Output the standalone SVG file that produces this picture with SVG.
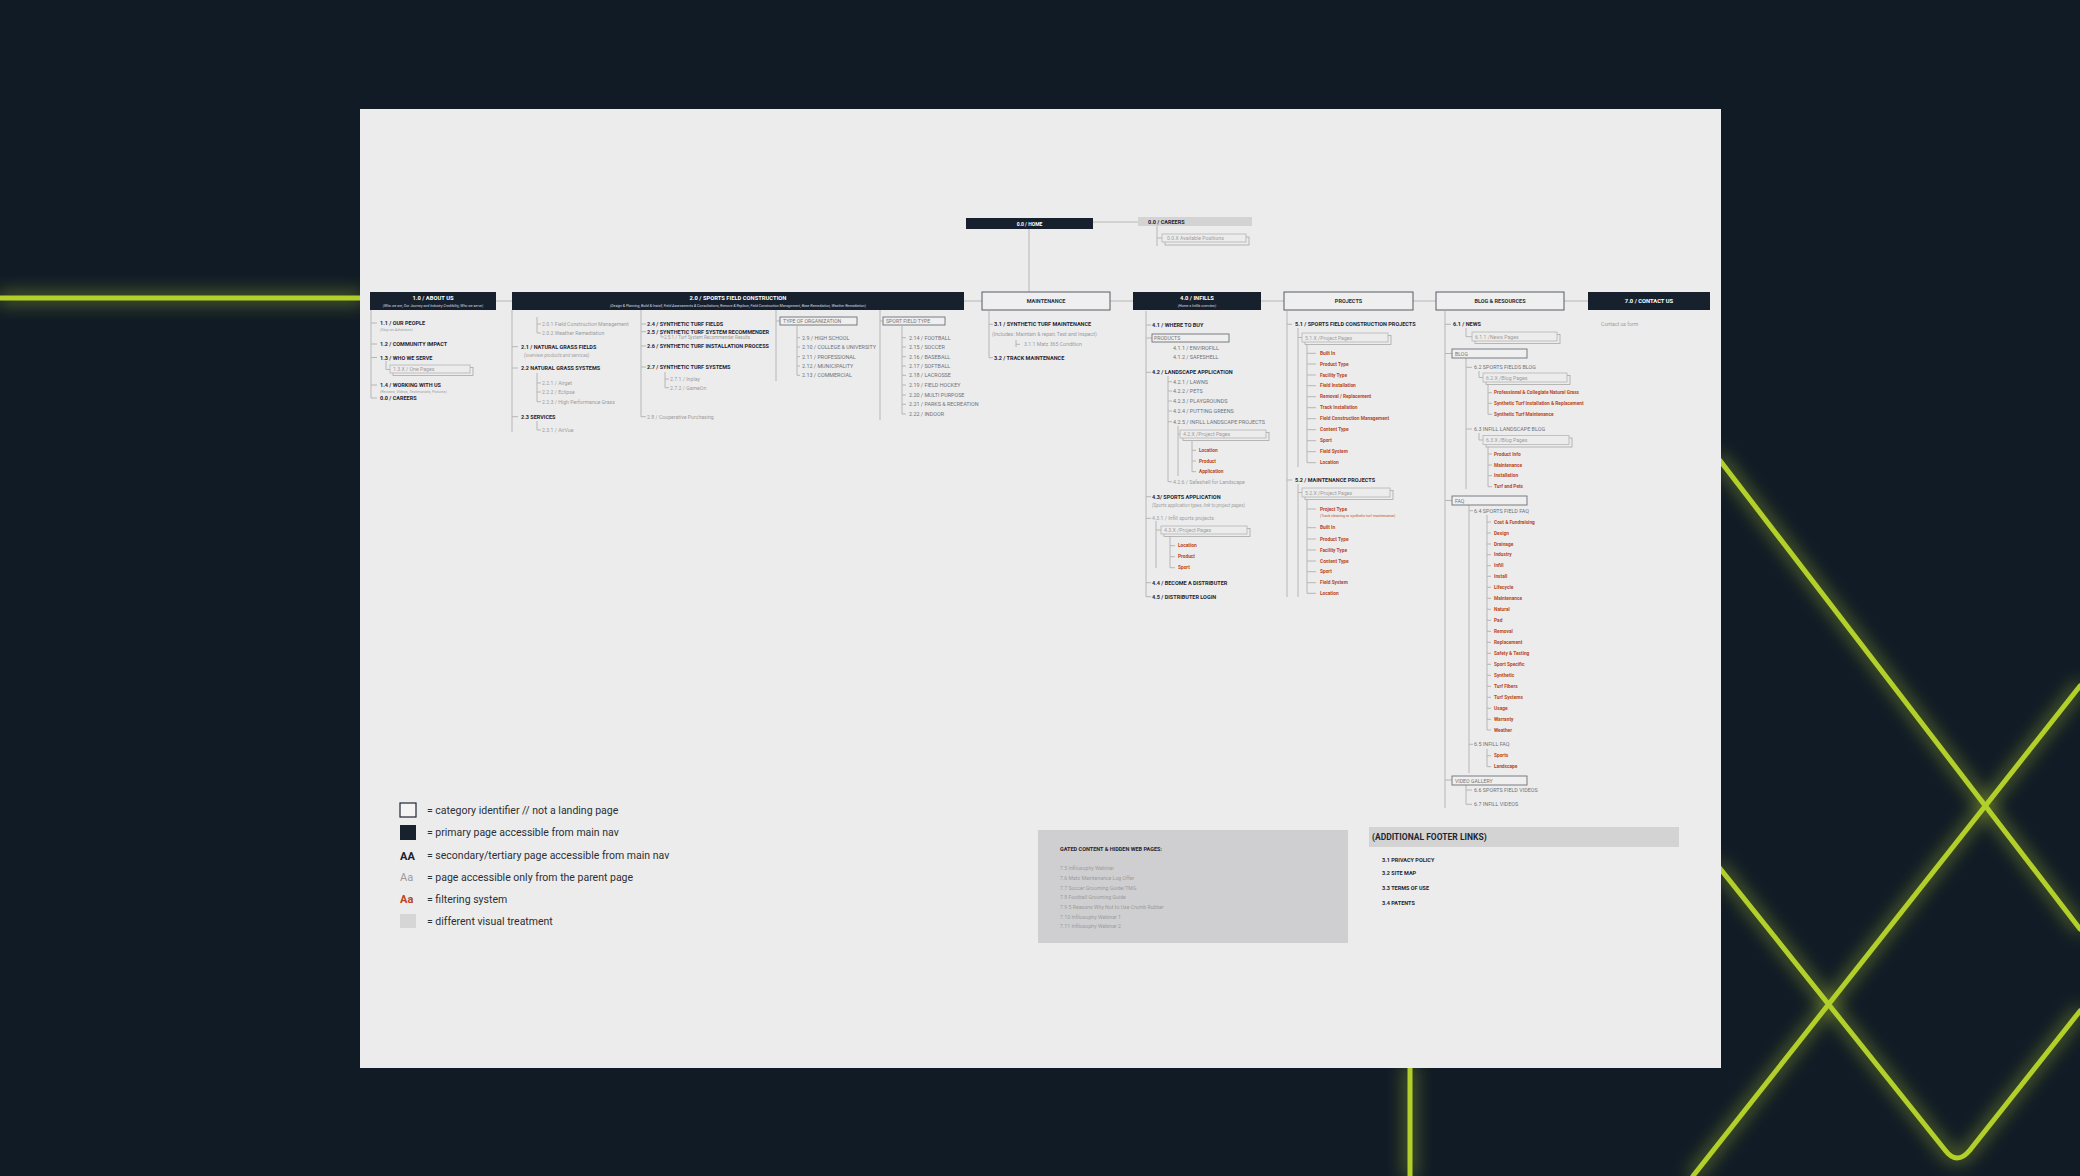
<svg xmlns="http://www.w3.org/2000/svg" width="2080" height="1176" viewBox="0 0 2080 1176">
<style>
.t{font-family:Roboto,"Liberation Sans",sans-serif;dominant-baseline:central}
.hb{font-weight:700;font-size:5.5px;fill:#1e2633}
.hg{font-size:5.2px;fill:#9c9c9c}
.hm{font-size:5.4px;fill:#6d737b}
.ho{font-weight:700;font-size:4.8px;fill:#b9471c}
.hi{font-size:4.6px;fill:#a0a0a0;font-style:italic}
.hw{font-weight:700;font-size:5.8px;fill:#fff;text-anchor:middle}
.hs{font-size:3.6px;fill:#d8dde3;text-anchor:middle;font-style:italic}
.hc{font-weight:700;font-size:5.5px;fill:#2a313b;text-anchor:middle}
.lg{font-size:10.5px;fill:#2b2f36}
.dk{fill:#17212e}
.cat{fill:#efefef;stroke:#555b63;stroke-width:1}
.sc{fill:#efefef;stroke:#6b7079;stroke-width:0.9}
.pb{fill:#ececec;stroke:#a9a9a9;stroke-width:0.8}
.pf{fill:#ececec;stroke:#b5b5b5;stroke-width:0.8}
.c{fill:none;stroke:#b6b6b6;stroke-width:1}
.gl{fill:none;stroke:#b3cf2c;stroke-width:5;stroke-linecap:round}
</style>
<defs>
<filter id="glow" x="-20%" y="-20%" width="140%" height="140%">
<feGaussianBlur stdDeviation="9" result="b"/>
<feMerge><feMergeNode in="b"/><feMergeNode in="SourceGraphic"/></feMerge>
</filter>
</defs>
<rect width="2080" height="1176" fill="#111b26"/>
<g id="decor" filter="url(#glow)">
<path class="gl" d="M0,298H362"/>
<path class="gl" d="M1718,458L2080,929"/>
<path class="gl" d="M2080,686L1693,1176"/>
<path class="gl" d="M1718,866L1945,1150Q1957,1166 1970,1150L2080,1011"/>
<path class="gl" d="M1410,1066V1176"/>
</g>
<rect x="360" y="109" width="1361" height="959" fill="#ececec"/>

<g id="connectors" class="c">
<path d="M1029,229V292M1093,222H1138M1157,226V246M1157,238H1162M496,301H512M964,301H982M1110,301H1133M1261,301H1284M1413,301H1436M1564,301H1588"/>
<path d="M371,310V398M371,323H377M371,344H377M371,357.5H377M371,385H377M371,398H377M386,361V369.5H390"/>
<path d="M512,310V432M512,346.7H518M512,368H518M512,416.7H518M537,317V333M537,324H541M537,333H541M537,373V401.7M537,383H541M537,392H541M537,401.7H541M537,421V430H541"/>
<path d="M641,310V417M641,324H646M641,331.7H646M641,346H646M641,367H646M641,416.7H646M661,333V337H664M665,372V387.7M665,379H669M665,387.7H669"/>
<path d="M776,310V381M776,321H780M797,326V375.3M797,337.7H800M797,347H800M797,356.7H800M797,366H800M797,375.3H800"/>
<path d="M880,310V420M880,321H883M902,326V414M902,337.7H906M902,347H906M902,356.7H906M902,366H906M902,375.3H906M902,385H906M902,395H906M902,404.3H906M902,414H906"/>
<path d="M989,311V357.7M989,324.3H993M989,357.7H993M1016,340V347M1016,344.3H1020"/>
<path d="M1146,311V596.7M1146,325H1151M1146,338H1152M1146,372.3H1151M1146,496.7H1151M1146,518.3H1151M1146,582.7H1151M1146,596.7H1151M1168,376V481.7M1168,381.7H1172M1168,391H1172M1168,401H1172M1168,411H1172M1168,421.7H1172M1168,481.7H1172M1178,426V476M1178,434H1180M1192,441V471.7M1192,450.3H1196M1192,461H1196M1192,471.7H1196M1156,521V568M1156,530H1161M1170,535V567.7M1170,545.7H1175M1170,556.7H1175M1170,567.7H1175"/>
<path d="M1287,311V597M1287,324.3H1292M1287,480H1292M1298,328V467M1298,337.5H1302M1307,344V462.7M1307,353.3H1316M1307,364H1316M1307,375H1316M1307,385.7H1316M1307,396.7H1316M1307,407.7H1316M1307,418.7H1316M1307,429.7H1316M1307,440.7H1316M1307,451.7H1316M1307,462.7H1316M1298,484V597M1298,492.5H1302M1307,500V593.3M1307,509H1316M1307,527.7H1316M1307,539H1316M1307,550H1316M1307,561H1316M1307,571.7H1316M1307,582.7H1316M1307,593.3H1316"/>
<path d="M1445,311V808M1445,324.3H1451M1445,353.5H1452M1445,500.5H1452M1445,780H1452M1466,328V336.7H1472M1466,358V489M1466,367.3H1472M1466,429H1472M1479,371V377.5H1483M1488,383V414.3M1488,392.7H1492M1488,403.3H1492M1488,414.3H1492M1479,433V440H1483M1488,446V486.7M1488,454H1492M1488,465H1492M1488,475.7H1492M1488,486.7H1492"/>
<path d="M1469,505V773M1469,510.7H1473M1469,744.3H1473M1487,515V730M1487,522H1491M1487,533H1491M1487,544H1491M1487,554.7H1491M1487,565.7H1491M1487,576.3H1491M1487,587.3H1491M1487,598.3H1491M1487,609.3H1491M1487,620.3H1491M1487,631.3H1491M1487,642.3H1491M1487,653.3H1491M1487,664.3H1491M1487,675.3H1491M1487,686.3H1491M1487,697.3H1491M1487,708.3H1491M1487,719.3H1491M1487,730H1491M1487,749V766.7M1487,755.7H1491M1487,766.7H1491M1466,785V804.3M1466,790H1472M1466,804.3H1472"/>
</g>

<g id="home"><rect class="dk" x="966" y="218" width="127" height="11"/><text class="t hw" x="1029.5" y="223.5" style="font-size:5px">0.0 / HOME</text></g>
<g id="careers"><rect x="1138" y="217" width="114" height="9" fill="#d3d3d3"/><text class="t hb" x="1148" y="221.5">0.0 / CAREERS</text></g>
<g id="careers-positions"><rect class="pb" x="1165" y="237" width="84" height="8"/><rect class="pf" x="1162" y="234" width="84" height="8"/><text class="t hg" x="1167" y="238">0.0.X Available Positions</text></g>

<g id="about"><rect class="dk" x="370" y="292" width="126" height="18"/><text class="t hw" x="433" y="297.5">1.0 / ABOUT US</text><text class="t hs" x="433" y="305.5">(Who we are, Our Journey and Industry Credibility, Who we serve)</text></g>
<g id="n1-1"><text class="t hb" x="380" y="323">1.1 / OUR PEOPLE</text><text class="t hi" x="380" y="329" style="font-size:3.8px">(Stop on Adventure)</text></g>
<g id="n1-2"><text class="t hb" x="380" y="344">1.2 / COMMUNITY IMPACT</text></g>
<g id="n1-3"><text class="t hb" x="380" y="357.5">1.3 / WHO WE SERVE</text></g>
<g id="n1-3-x"><rect class="pb" x="393" y="367.5" width="80" height="8"/><rect class="pf" x="390" y="365" width="80" height="8"/><text class="t hg" x="393" y="369">1.3.X / One Pages</text></g>
<g id="n1-4"><text class="t hb" x="380" y="385">1.4 / WORKING WITH US</text><text class="t hi" x="380" y="391.5" style="font-size:3.8px">(Reviews, Videos, Testimonials, Pictures)</text></g>
<g id="n1-careers"><text class="t hb" x="380" y="398">0.0 / CAREERS</text></g>

<g id="sfc"><rect class="dk" x="512" y="292" width="452" height="18"/><text class="t hw" x="738" y="297.5">2.0 / SPORTS FIELD CONSTRUCTION</text><text class="t hs" x="738" y="305.5">(Design &amp; Planning, Build &amp; Install, Field Assessments &amp; Consultations, Remove &amp; Replace, Field Construction Management, Base Remediation, Weather Remediation)</text></g>
<g id="n2-0-1"><text class="t hg" x="542" y="324">2.0.1 Field Construction Management</text></g>
<g id="n2-0-2"><text class="t hg" x="542" y="333">2.0.2 Weather Remediation</text></g>
<g id="n2-1"><text class="t hb" x="521" y="346.7">2.1 / NATURAL GRASS FIELDS</text><text class="t hi" x="524" y="355">(overview products and services)</text></g>
<g id="n2-2"><text class="t hb" x="521" y="368">2.2 NATURAL GRASS SYSTEMS</text></g>
<g id="n2-2-1"><text class="t hg" x="542" y="383">2.2.1 / Airget</text></g>
<g id="n2-2-2"><text class="t hg" x="542" y="392">2.2.2 / Eclipse</text></g>
<g id="n2-2-3"><text class="t hg" x="542" y="401.7">2.2.3 / High Performance Grass</text></g>
<g id="n2-3"><text class="t hb" x="521" y="416.7">2.3 SERVICES</text></g>
<g id="n2-3-1"><text class="t hg" x="542" y="430">2.3.1 / AirVue</text></g>
<g id="n2-4"><text class="t hb" x="647" y="324">2.4 / SYNTHETIC TURF FIELDS</text></g>
<g id="n2-5"><text class="t hb" x="647" y="331.7">2.5 / SYNTHETIC TURF SYSTEM RECOMMENDER</text></g>
<g id="n2-5-1"><text class="t hg" x="664" y="337" style="font-size:4.6px">2.5.1 / Turf System Recommender Results</text></g>
<g id="n2-6"><text class="t hb" x="647" y="346">2.6 / SYNTHETIC TURF INSTALLATION PROCESS</text></g>
<g id="n2-7"><text class="t hb" x="647" y="367">2.7 / SYNTHETIC TURF SYSTEMS</text></g>
<g id="n2-7-1"><text class="t hg" x="670" y="379">2.7.1 / Inplay</text></g>
<g id="n2-7-2"><text class="t hg" x="670" y="387.7">2.7.2 / GameOn</text></g>
<g id="n2-8"><text class="t hg" x="647" y="416.7">2.8 / Cooperative Purchasing</text></g>
<g id="org-type"><rect class="sc" x="780" y="317" width="77" height="8"/><text class="t hg" x="783" y="321" style="fill:#777">TYPE OF ORGANIZATION</text></g>
<g id="n2-9"><text class="t hm" x="802" y="337.7">2.9 / HIGH SCHOOL</text></g>
<g id="n2-10"><text class="t hm" x="802" y="347">2.10 / COLLEGE &amp; UNIVERSITY</text></g>
<g id="n2-11"><text class="t hm" x="802" y="356.7">2.11 / PROFESSIONAL</text></g>
<g id="n2-12"><text class="t hm" x="802" y="366">2.12 / MUNICIPALITY</text></g>
<g id="n2-13"><text class="t hm" x="802" y="375.3">2.13 / COMMERCIAL</text></g>
<g id="field-type"><rect class="sc" x="883" y="317" width="62" height="8"/><text class="t hg" x="886" y="321" style="fill:#777">SPORT FIELD TYPE</text></g>
<g id="n2-14"><text class="t hm" x="909" y="337.7">2.14 / FOOTBALL</text></g>
<g id="n2-15"><text class="t hm" x="909" y="347">2.15 / SOCCER</text></g>
<g id="n2-16"><text class="t hm" x="909" y="356.7">2.16 / BASEBALL</text></g>
<g id="n2-17"><text class="t hm" x="909" y="366">2.17 / SOFTBALL</text></g>
<g id="n2-18"><text class="t hm" x="909" y="375.3">2.18 / LACROSSE</text></g>
<g id="n2-19"><text class="t hm" x="909" y="385">2.19 / FIELD HOCKEY</text></g>
<g id="n2-20"><text class="t hm" x="909" y="395">2.20 / MULTI PURPOSE</text></g>
<g id="n2-21"><text class="t hm" x="909" y="404.3">2.21 / PARKS &amp; RECREATION</text></g>
<g id="n2-22"><text class="t hm" x="909" y="414">2.22 / INDOOR</text></g>

<g id="maintenance"><rect class="cat" x="982" y="292" width="128" height="18"/><text class="t hc" x="1046" y="301">MAINTENANCE</text></g>
<g id="n3-1"><text class="t hb" x="994" y="324.3">3.1 / SYNTHETIC TURF MAINTENANCE</text><text class="t hg" x="992" y="334.3">(Includes: Maintain &amp; repair, Test and Inspect)</text></g>
<g id="n3-1-1"><text class="t hg" x="1024" y="344.3">3.1.1 Matz 365 Condition</text></g>
<g id="n3-2"><text class="t hb" x="994" y="357.7">3.2 / TRACK MAINTENANCE</text></g>

<g id="infills"><rect class="dk" x="1133" y="292" width="128" height="18"/><text class="t hw" x="1197" y="297.5">4.0 / INFILLS</text><text class="t hs" x="1197" y="305.5">(Home = Infills overview)</text></g>
<g id="n4-1"><text class="t hb" x="1152" y="325">4.1 / WHERE TO BUY</text></g>
<g id="products"><rect class="sc" x="1152" y="334" width="77" height="8"/><text class="t hg" x="1154" y="338" style="fill:#777">PRODUCTS</text></g>
<g id="n4-1-1"><text class="t hm" x="1173" y="348.3">4.1.1 / ENVIROFILL</text></g>
<g id="n4-1-2"><text class="t hm" x="1173" y="356.7">4.1.2 / SAFESHELL</text></g>
<g id="n4-2"><text class="t hb" x="1152" y="372.3">4.2 / LANDSCAPE APPLICATION</text></g>
<g id="n4-2-1"><text class="t hm" x="1173" y="381.7">4.2.1 / LAWNS</text></g>
<g id="n4-2-2"><text class="t hm" x="1173" y="391">4.2.2 / PETS</text></g>
<g id="n4-2-3"><text class="t hm" x="1173" y="401">4.2.3 / PLAYGROUNDS</text></g>
<g id="n4-2-4"><text class="t hm" x="1173" y="411">4.2.4 / PUTTING GREENS</text></g>
<g id="n4-2-5"><text class="t hm" x="1173" y="421.7">4.2.5 / INFILL LANDSCAPE PROJECTS</text></g>
<g id="n4-2-x"><rect class="pb" x="1183" y="432.5" width="86" height="8"/><rect class="pf" x="1180" y="430" width="86" height="8"/><text class="t hg" x="1183" y="434">4.2.X /Project Pages</text></g>
<g id="f4-2-loc"><text class="t ho" x="1199" y="450.3">Location</text></g>
<g id="f4-2-prod"><text class="t ho" x="1199" y="461">Product</text></g>
<g id="f4-2-app"><text class="t ho" x="1199" y="471.7">Application</text></g>
<g id="n4-2-6"><text class="t hg" x="1173" y="481.7">4.2.6 / Safeshell for Landscape</text></g>
<g id="n4-3"><text class="t hb" x="1152" y="496.7">4.3/ SPORTS APPLICATION</text><text class="t hi" x="1152" y="505.7">(Sports application types, link to project pages)</text></g>
<g id="n4-3-1"><text class="t hg" x="1152" y="518.3">4.3.1 / Infill sports projects</text></g>
<g id="n4-3-x"><rect class="pb" x="1164" y="528.5" width="86" height="8"/><rect class="pf" x="1161" y="526" width="86" height="8"/><text class="t hg" x="1164" y="530">4.3.X /Project Pages</text></g>
<g id="f4-3-loc"><text class="t ho" x="1178" y="545.7">Location</text></g>
<g id="f4-3-prod"><text class="t ho" x="1178" y="556.7">Product</text></g>
<g id="f4-3-sport"><text class="t ho" x="1178" y="567.7">Sport</text></g>
<g id="n4-4"><text class="t hb" x="1152" y="582.7">4.4 / BECOME A DISTRIBUTER</text></g>
<g id="n4-5"><text class="t hb" x="1152" y="596.7">4.5 / DISTRIBUTER LOGIN</text></g>

<g id="projects"><rect class="cat" x="1284" y="292" width="129" height="18"/><text class="t hc" x="1348.5" y="301">PROJECTS</text></g>
<g id="n5-1"><text class="t hb" x="1295" y="324.3">5.1 / SPORTS FIELD CONSTRUCTION PROJECTS</text></g>
<g id="n5-1-x"><rect class="pb" x="1305" y="335.5" width="86" height="9"/><rect class="pf" x="1302" y="333" width="86" height="9"/><text class="t hg" x="1305" y="337.5">5.1.X /Project Pages</text></g>
<g id="f5-1">
<text class="t ho" x="1320" y="353.3">Built In</text>
<text class="t ho" x="1320" y="364">Product Type</text>
<text class="t ho" x="1320" y="375">Facility Type</text>
<text class="t ho" x="1320" y="385.7">Field Installation</text>
<text class="t ho" x="1320" y="396.7">Removal / Replacement</text>
<text class="t ho" x="1320" y="407.7">Track Installation</text>
<text class="t ho" x="1320" y="418.7">Field Construction Management</text>
<text class="t ho" x="1320" y="429.7">Content Type</text>
<text class="t ho" x="1320" y="440.7">Sport</text>
<text class="t ho" x="1320" y="451.7">Field System</text>
<text class="t ho" x="1320" y="462.7">Location</text>
</g>
<g id="n5-2"><text class="t hb" x="1295" y="480">5.2 / MAINTENANCE PROJECTS</text></g>
<g id="n5-2-x"><rect class="pb" x="1305" y="490.5" width="88" height="9"/><rect class="pf" x="1302" y="488" width="88" height="9"/><text class="t hg" x="1305" y="492.5">5.2.X /Project Pages</text></g>
<g id="f5-2">
<text class="t ho" x="1320" y="509">Project Type</text>
<text class="t" x="1320" y="515.7" style="font-size:3.7px;fill:#c0582a">(Track cleaning or synthetic turf maintenance)</text>
<text class="t ho" x="1320" y="527.7">Built In</text>
<text class="t ho" x="1320" y="539">Product Type</text>
<text class="t ho" x="1320" y="550">Facility Type</text>
<text class="t ho" x="1320" y="561">Content Type</text>
<text class="t ho" x="1320" y="571.7">Sport</text>
<text class="t ho" x="1320" y="582.7">Field System</text>
<text class="t ho" x="1320" y="593.3">Location</text>
</g>

<g id="blog"><rect class="cat" x="1436" y="292" width="128" height="18"/><text class="t hc" x="1500" y="301">BLOG &amp; RESOURCES</text></g>
<g id="n6-1"><text class="t hb" x="1453" y="324.3">6.1 / NEWS</text></g>
<g id="n6-1-1"><rect class="pb" x="1475" y="334.5" width="85" height="9"/><rect class="pf" x="1472" y="332" width="85" height="9"/><text class="t hg" x="1475" y="336.5">6.1.1 /News Pages</text></g>
<g id="blog-cat"><rect class="sc" x="1452" y="349" width="75" height="9"/><text class="t hg" x="1455" y="353.5" style="fill:#777">BLOG</text></g>
<g id="n6-2"><text class="t hm" x="1474" y="367.3">6.2 SPORTS FIELDS BLOG</text></g>
<g id="n6-2-x"><rect class="pb" x="1486" y="375.5" width="84" height="9"/><rect class="pf" x="1483" y="373" width="84" height="9"/><text class="t hg" x="1486" y="377.5">6.2.X /Blog Pages</text></g>
<g id="f6-2">
<text class="t ho" x="1494" y="392.7">Professional &amp; Collegiate Natural Grass</text>
<text class="t ho" x="1494" y="403.3">Synthetic Turf Installation &amp; Replacement</text>
<text class="t ho" x="1494" y="414.3">Synthetic Turf Maintenance</text>
</g>
<g id="n6-3"><text class="t hm" x="1474" y="429">6.3 INFILL LANDSCAPE BLOG</text></g>
<g id="n6-3-x"><rect class="pb" x="1486" y="438" width="86" height="9"/><rect class="pf" x="1483" y="435.5" width="86" height="9"/><text class="t hg" x="1486" y="440">6.3.X /Blog Pages</text></g>
<g id="f6-3">
<text class="t ho" x="1494" y="454">Product Info</text>
<text class="t ho" x="1494" y="465">Maintenance</text>
<text class="t ho" x="1494" y="475.7">Installation</text>
<text class="t ho" x="1494" y="486.7">Turf and Pets</text>
</g>
<g id="faq-cat"><rect class="sc" x="1452" y="496" width="75" height="9"/><text class="t hg" x="1455" y="500.5" style="fill:#777">FAQ</text></g>
<g id="n6-4"><text class="t hm" x="1474" y="510.7">6.4 SPORTS FIELD FAQ</text></g>
<g id="f6-4">
<text class="t ho" x="1494" y="522">Cost &amp; Fundraising</text>
<text class="t ho" x="1494" y="533">Design</text>
<text class="t ho" x="1494" y="544">Drainage</text>
<text class="t ho" x="1494" y="554.7">Industry</text>
<text class="t ho" x="1494" y="565.7">Infill</text>
<text class="t ho" x="1494" y="576.3">Install</text>
<text class="t ho" x="1494" y="587.3">Lifecycle</text>
<text class="t ho" x="1494" y="598.3">Maintenance</text>
<text class="t ho" x="1494" y="609.3">Natural</text>
<text class="t ho" x="1494" y="620.3">Pad</text>
<text class="t ho" x="1494" y="631.3">Removal</text>
<text class="t ho" x="1494" y="642.3">Replacement</text>
<text class="t ho" x="1494" y="653.3">Safety &amp; Testing</text>
<text class="t ho" x="1494" y="664.3">Sport Specific</text>
<text class="t ho" x="1494" y="675.3">Synthetic</text>
<text class="t ho" x="1494" y="686.3">Turf Fibers</text>
<text class="t ho" x="1494" y="697.3">Turf Systems</text>
<text class="t ho" x="1494" y="708.3">Usage</text>
<text class="t ho" x="1494" y="719.3">Warranty</text>
<text class="t ho" x="1494" y="730">Weather</text>
</g>
<g id="n6-5"><text class="t hm" x="1474" y="744.3">6.5 INFILL FAQ</text></g>
<g id="f6-5">
<text class="t ho" x="1494" y="755.7">Sports</text>
<text class="t ho" x="1494" y="766.7">Landscape</text>
</g>
<g id="video-cat"><rect class="sc" x="1452" y="776" width="75" height="9"/><text class="t hg" x="1455" y="780.5" style="fill:#777">VIDEO GALLERY</text></g>
<g id="n6-6"><text class="t hm" x="1474" y="790">6.6 SPORTS FIELD VIDEOS</text></g>
<g id="n6-7"><text class="t hm" x="1474" y="804.3">6.7 INFILL VIDEOS</text></g>

<g id="contact"><rect class="dk" x="1588" y="292" width="122" height="18"/><text class="t hw" x="1649" y="301">7.0 / CONTACT US</text></g>
<g id="n7-form"><text class="t hg" x="1601" y="324.3">Contact us form</text></g>

<g id="legend">
<rect x="400" y="803" width="16" height="14" fill="#f4f4f4" stroke="#1d2633" stroke-width="1.2"/>
<text class="t lg" x="427" y="810.7">= category identifier // not a landing page</text>
<rect x="400" y="825" width="16" height="15" fill="#18222f"/>
<text class="t lg" x="427" y="832.7">= primary page accessible from main nav</text>
<text class="t" x="400" y="856" style="font-size:11px;font-weight:700;fill:#1b2330">AA</text>
<text class="t lg" x="427" y="855.7">= secondary/tertiary page accessible from main nav</text>
<text class="t" x="400" y="877.5" style="font-size:11px;fill:#9a9a9a">Aa</text>
<text class="t lg" x="427" y="877.3">= page accessible only from the parent page</text>
<text class="t" x="400" y="899.5" style="font-size:11px;font-weight:700;fill:#b9471c">Aa</text>
<text class="t lg" x="427" y="899.3">= filtering system</text>
<rect x="400" y="914" width="16" height="14" fill="#d6d6d6"/>
<text class="t lg" x="427" y="921">= different visual treatment</text>
</g>

<g id="gated">
<rect x="1038" y="830" width="310" height="113" fill="#cfcfd1"/>
<text class="t hb" x="1060" y="849">GATED CONTENT &amp; HIDDEN WEB PAGES:</text>
<text class="t hg" x="1060" y="868.3">7.5 Infilosophy Webinar</text>
<text class="t hg" x="1060" y="878">7.6 Matz Maintenance Log Offer</text>
<text class="t hg" x="1060" y="887.7">7.7 Soccer Grooming Guide/TMG</text>
<text class="t hg" x="1060" y="897.3">7.8 Football Grooming Guide</text>
<text class="t hg" x="1060" y="907">7.9 5 Reasons Why Not to Use Crumb Rubber</text>
<text class="t hg" x="1060" y="916.7">7.10 Infilosophy Webinar 1</text>
<text class="t hg" x="1060" y="926.3">7.11 Infilosophy Webinar 2</text>
</g>

<g id="footer-links">
<rect x="1369" y="827" width="310" height="20" fill="#d3d3d3"/>
<text class="t" x="1372" y="837" style="font-size:8.5px;font-weight:700;fill:#1e2633">(ADDITIONAL FOOTER LINKS)</text>
<text class="t hb" x="1382" y="860">3.1 PRIVACY POLICY</text>
<text class="t hb" x="1382" y="873.3">3.2 SITE MAP</text>
<text class="t hb" x="1382" y="888.3">3.3 TERMS OF USE</text>
<text class="t hb" x="1382" y="903.3">3.4 PATENTS</text>
</g>
</svg>
